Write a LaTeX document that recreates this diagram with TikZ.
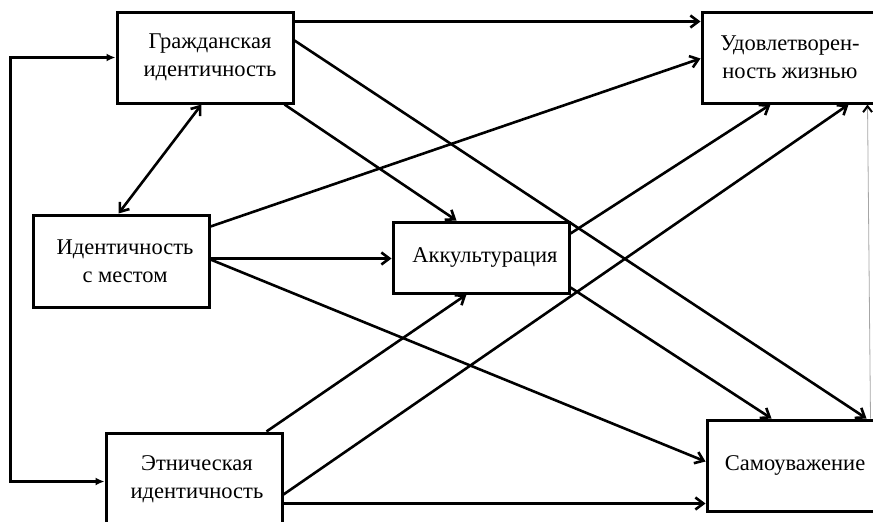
\documentclass[tikz,border=0pt]{standalone}
\usepackage{fontspec}
\setmainfont{Liberation Serif}
\usetikzlibrary{arrows.meta,calc}
\tikzset{
  box/.style={draw, line width=3pt, rectangle, minimum width=176pt, align=center,
    font=\fontsize{22.5pt}{28pt}\selectfont, inner sep=0pt},
  arr/.style={line width=2.6pt, -{Straight Barb[length=8pt,width=12pt,line width=2.6pt]}},
  darr/.style={line width=2.6pt, {Straight Barb[length=8pt,width=12pt,line width=2.6pt]}-{Straight Barb[length=8pt,width=12pt,line width=2.6pt]}},
  brk/.style={line width=2.6pt, {Latex[length=9pt,width=8pt]}-{Latex[length=9pt,width=8pt]}},
  faint/.style={line width=0.8pt, draw=black!35, -{Straight Barb[length=6pt,width=9pt,line width=2pt,color=black]}}
}
\begin{document}
\begin{tikzpicture}[x=1pt,y=-1pt]
\useasboundingbox (0,0) rectangle (873,522);
\node[box, minimum height=91pt] (gr) at (205,57.5) {\hspace*{10pt}Гражданская\\\hspace*{10pt}идентичность};
\node[box, minimum height=92pt] (id) at (121,261) {\hspace*{8pt}Идентичность\\\hspace*{8pt}с местом};
\node[box, minimum height=71pt] (ak) at (481,257.5) {\hspace*{8pt}Аккультурация};
\node[box, minimum height=92pt] (et) at (194,479) {\hspace*{6pt}Этническая\\\hspace*{6pt}идентичность};
\node[box, minimum height=91pt] (ud) at (790,57.5) {Удовлетворен-\\ность жизнью};
\node[box, minimum height=91pt] (sa) at (795,465.5) {Самоуважение};
% connectors
\draw[arr] ($(gr.north east)+(0,11)$) -- ($(ud.north west)+(0,11)$);
\draw[arr] ($(gr.north east)+(0,30)$) -- ($(sa.north west)+(161,0)$);
\draw[arr] ($(gr.south east)+(-10,0)$) -- ($(ak.north west)+(65,0)$);
\draw[darr] ($(gr.south west)+(86,0)$) -- ($(id.north west)+(87,0)$);
\draw[arr] ($(id.north east)+(0,13)$) -- ($(ud.north west)+(0,48)$);
\draw[arr] ($(id.north east)+(0,45)$) -- ($(ak.north west)+(0,38)$);
\draw[arr] ($(id.north east)+(0,46)$) -- ($(sa.north west)+(0,43)$);
\draw[arr] ($(ak.north east)+(0,13)$) -- ($(ud.south west)+(70,0)$);
\draw[arr] ($(ak.south east)+(0,-7)$) -- ($(sa.north west)+(66,0)$);
\draw[arr] ($(et.north west)+(162,0)$) -- ($(ak.south west)+(75,0)$);
\draw[arr] ($(et.north east)+(0,63)$) -- ($(ud.south west)+(148,0)$);
\draw[arr] ($(et.north east)+(0,72)$) -- ($(sa.north west)+(0,85)$);
\draw[brk] ($(gr.north west)+(0,47)$) -- ++(-105,0) |- ($(et.north west)+(0,50)$);
\draw[faint] ($(sa.north west)+(165,0)$) -- ($(ud.south west)+(167,0)$);
\end{tikzpicture}
\end{document}
